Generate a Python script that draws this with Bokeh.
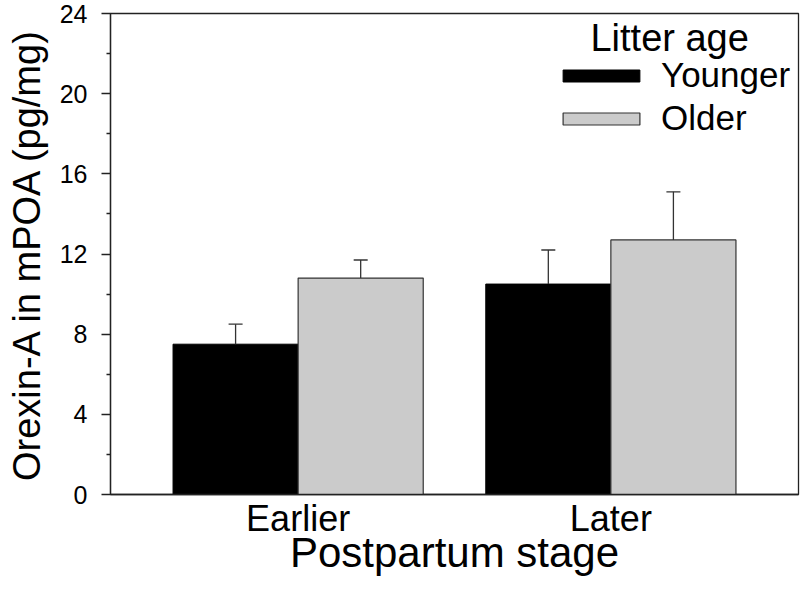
from bokeh.plotting import figure
from bokeh.models import (ColumnDataSource, Range1d, FixedTicker, Whisker, TeeHead,
                          Legend, LegendItem, Label)
from bokeh.embed import file_html
from bokeh.resources import INLINE

# ---- data ----
stages = ["Earlier", "Later"]
series = ["Younger", "Older"]
younger_mean = [7.5, 10.5]
younger_sem = [1.0, 1.7]
older_mean = [10.8, 12.7]
older_sem = [0.9, 2.4]
y_ticks = [0, 4, 8, 12, 16, 20, 24]
y_minor = [2, 6, 10, 14, 18, 22]

# ---- layout helpers ----
FONT = "Liberation Sans"
BAR_W = 1.0
STEP = 2.5
x_young = [1.0 + STEP * i for i in range(len(stages))]
x_old = [2.0 + STEP * i for i in range(len(stages))]
x_group = [1.5 + STEP * i for i in range(len(stages))]

src_y = ColumnDataSource(dict(x=x_young, top=younger_mean,
                              upper=[m + s for m, s in zip(younger_mean, younger_sem)]))
src_o = ColumnDataSource(dict(x=x_old, top=older_mean,
                              upper=[m + s for m, s in zip(older_mean, older_sem)]))

p = figure(width=800, height=589, output_backend="svg", toolbar_location=None,
           x_range=Range1d(0, 5.5), y_range=Range1d(0, 24),
           min_border_left=110, min_border_right=2, min_border_top=13, min_border_bottom=95)
p.grid.visible = False
p.outline_line_color = "#222222"
p.outline_line_width = 1.3
p.background_fill_color = "white"
p.border_fill_color = "white"

r1 = p.vbar(x="x", top="top", width=BAR_W, source=src_y, fill_color="black",
            line_color="black", line_width=1)
r2 = p.vbar(x="x", top="top", width=BAR_W, source=src_o, fill_color="#cbcbcb",
            line_color="#333333", line_width=1.2)

for src in (src_y, src_o):
    w = Whisker(source=src, base="x", lower="top", upper="upper",
                lower_head=None,
                upper_head=TeeHead(size=14, line_color="#333333", line_width=1.3),
                line_color="#333333", line_width=1.3, level="overlay")
    p.add_layout(w)

# axes
yax = p.yaxis[0]
yax.ticker = FixedTicker(ticks=y_ticks, minor_ticks=y_minor)
yax.major_tick_out = 9
yax.major_tick_in = 0
yax.minor_tick_out = 4
yax.minor_tick_in = 0
yax.axis_line_color = "#222222"
yax.axis_line_width = 1.3
yax.major_tick_line_color = "#222222"
yax.minor_tick_line_color = "#222222"
yax.major_tick_line_width = 1.3
yax.minor_tick_line_width = 1.3
yax.major_label_text_font = FONT
yax.major_label_text_font_size = "25px"
yax.major_label_text_color = "black"
yax.major_label_standoff = 14
yax.axis_label = "Orexin-A in mPOA (pg/mg)"
yax.axis_label_text_font = FONT
yax.axis_label_text_font_size = "38px"
yax.axis_label_text_font_style = "normal"
yax.axis_label_text_color = "black"
yax.axis_label_standoff = 9

xax = p.xaxis[0]
xax.ticker = FixedTicker(ticks=x_group)
xax.major_label_overrides = {x: s for x, s in zip(x_group, stages)}
xax.major_tick_line_color = None
xax.minor_tick_line_color = None
xax.major_tick_out = 0
xax.axis_line_color = "#222222"
xax.axis_line_width = 1.3
xax.major_label_text_font = FONT
xax.major_label_text_font_size = "36px"
xax.major_label_text_color = "black"
xax.major_label_standoff = 3
xax.axis_label = "Postpartum stage"
xax.axis_label_text_font = FONT
xax.axis_label_text_font_size = "42px"
xax.axis_label_text_font_style = "normal"
xax.axis_label_text_color = "black"
xax.axis_label_standoff = -13

legend = Legend(items=[LegendItem(label=series[0], renderers=[r1]),
                       LegendItem(label=series[1], renderers=[r2])],
                location=(443, 356), glyph_width=96, glyph_height=15,
                label_text_font=FONT, label_text_font_size="35px",
                label_text_color="black",
                border_line_color=None, background_fill_alpha=0,
                spacing=3, label_standoff=12, padding=10)
p.add_layout(legend)

title = Label(x=4.47, y=22.8, text="Litter age", text_font=FONT,
              text_font_size="38px", text_align="center",
              text_baseline="alphabetic", text_color="black")
p.add_layout(title)

open("out.html", "w").write(file_html(p, INLINE))
